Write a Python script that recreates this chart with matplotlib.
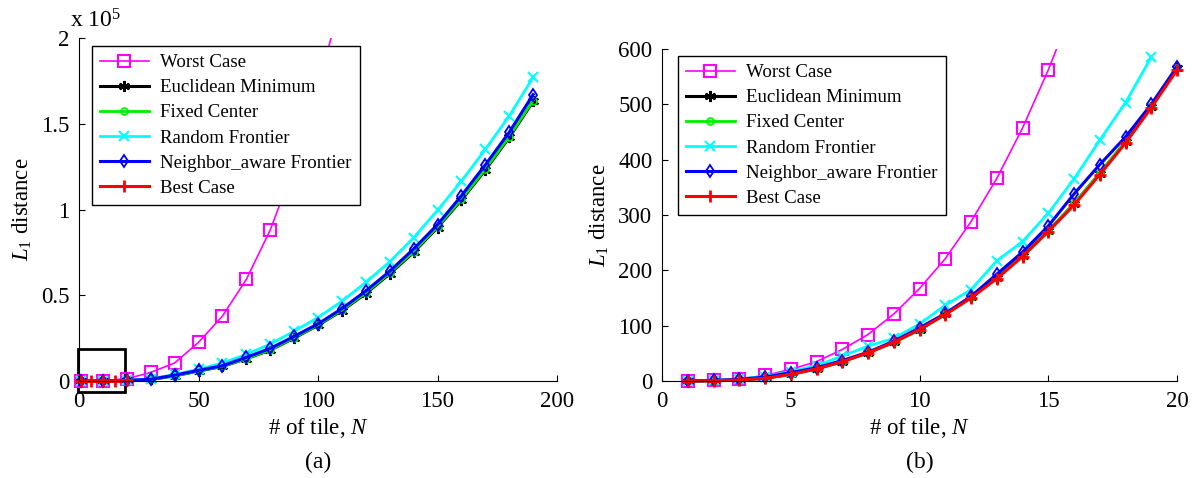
import numpy as np
import matplotlib
matplotlib.use("Agg")
import matplotlib.pyplot as plt
from matplotlib.patches import Rectangle
from matplotlib.transforms import Bbox, TransformedBbox

plt.rcParams['font.family'] = ['Liberation Serif', 'DejaVu Serif']
plt.rcParams['mathtext.fontset'] = 'custom'
plt.rcParams['mathtext.rm'] = 'Liberation Serif'
plt.rcParams['mathtext.it'] = 'Liberation Serif:italic'

# ---- panel (a) data, values in units of 1e5 ----
n_a = [1, 10, 20, 30, 40, 50, 60, 70, 80, 90, 100, 110, 120, 130, 140, 150, 160, 170, 180, 190]
worst_a = [0.0, 0.002, 0.013, 0.05, 0.105, 0.225, 0.378, 0.592, 0.88, 1.25, 1.70, 2.25]
euclid_a = [0.0, 0.0003, 0.003, 0.009, 0.03, 0.058, 0.085, 0.13, 0.18, 0.25, 0.325, 0.41,
            0.51, 0.625, 0.75, 0.895, 1.055, 1.23, 1.42, 1.63]
fixed_a = [0.0, 0.0003, 0.003, 0.009, 0.03, 0.058, 0.086, 0.131, 0.182, 0.252, 0.327, 0.413,
           0.514, 0.63, 0.755, 0.9, 1.06, 1.235, 1.425, 1.635]
random_a = [0.0, 0.0004, 0.004, 0.013, 0.038, 0.068, 0.105, 0.155, 0.215, 0.29, 0.37, 0.465,
            0.575, 0.695, 0.835, 0.995, 1.165, 1.35, 1.545, 1.77]
neighbor_a = [0.0, 0.0003, 0.003, 0.01, 0.034, 0.062, 0.089, 0.138, 0.19, 0.26, 0.333, 0.422,
              0.525, 0.64, 0.77, 0.912, 1.08, 1.26, 1.45, 1.67]
n_best_a = [1, 5, 10, 15, 20]
best_a = [0.0, 0.0001, 0.0003, 0.0008, 0.003]

# ---- panel (b) data ----
n_b = list(range(1, 21))
worst_b = [0, 1, 4, 10, 21, 35, 57, 84, 121, 167, 221, 288, 366, 457, 562, 680]
euclid_b = [0, 0.5, 2, 5, 12, 22, 35, 51, 70, 93, 121, 151, 186, 226, 271, 320, 375, 432, 496, 565]
fixed_b = [0, 0.5, 2, 5, 12, 22, 35, 51, 70, 93, 121, 151, 186, 226, 271, 321, 376, 433, 497, 565]
random_b = [0, 1, 4, 8, 17, 28, 45, 63, 77, 103, 137, 165, 217, 252, 303, 365, 435, 503, 585]
neighbor_b = [0, 1, 3, 7, 15, 24, 37, 52, 72, 96, 122, 153, 193, 233, 280, 338, 391, 441, 500, 568]
best_b = [0, 0.5, 2, 5, 12, 22, 35, 51, 70, 93, 120, 150, 185, 225, 270, 318, 373, 430, 494, 562]

labels = ['Worst Case', 'Euclidean Minimum', 'Fixed Center', 'Random Frontier',
          'Neighbor_aware Frontier', 'Best Case']

asterisk = (6, 2, 0)
styles = [
    dict(color='#FF00FF', marker='s', ms=8, mfc='none', mew=1.5, lw=1.2),
    dict(color='black', marker=asterisk, ms=8, mew=1.5, lw=2.2),
    dict(color='#00EE00', marker='o', ms=5, mfc='none', mew=1.2, lw=2.0),
    dict(color='#00FFFF', marker='x', ms=7, mew=1.5, lw=2.0),
    dict(color='#0000FF', marker='d', ms=6.5, mfc='none', mew=1.3, lw=2.2),
    dict(color='#FF0000', marker='+', ms=9, mew=2.0, lw=2.2),
]


def setup(ax, xlim, ylim, xticks, yticks, yticklabels):
    ax.set_xlim(xlim)
    ax.set_ylim(ylim)
    ax.set_xticks(xticks)
    ax.set_yticks(yticks)
    ax.set_yticklabels(yticklabels)
    ax.spines['top'].set_visible(False)
    ax.spines['right'].set_visible(False)
    ax.tick_params(direction='in', length=4, width=0.8, labelsize=16.5, pad=7)
    ax.set_xlabel(r'# of tile, $N$', fontsize=16.5, labelpad=3)
    ax.set_ylabel(r'$L_{\mathit{1}}$ distance', fontsize=16.5, labelpad=5)


def add_legend(ax, anchor):
    leg = ax.legend(loc='upper left', bbox_to_anchor=anchor, borderaxespad=0,
                    fontsize=13.6, handlelength=2.6, handletextpad=0.6,
                    labelspacing=0.42, borderpad=0.42, fancybox=False,
                    edgecolor='black', framealpha=1)
    leg.get_frame().set_linewidth(1.0)


fig = plt.figure(figsize=(11.94, 4.78), dpi=100)

# panel (a)
ax1 = fig.add_axes([79 / 1194, 1 - 381 / 478, 478 / 1194, 343 / 478])
clip1 = TransformedBbox(Bbox([[-5, -0.2], [205, 2.0]]), ax1.transData)
series_a = [(n_a, worst_a), (n_a, euclid_a), (n_a, fixed_a), (n_a, random_a),
            (n_a, neighbor_a), (n_best_a, best_a)]
for (xs, ys), lab, st in zip(series_a, labels, styles):
    line, = ax1.plot(xs[:len(ys)], ys, label=lab, **st)
    line.set_clip_box(clip1)
setup(ax1, (0, 200), (0, 2), [0, 50, 100, 150, 200], [0, 0.5, 1, 1.5, 2],
      ['0', '0.5', '1', '1.5', '2'])
ax1.add_patch(Rectangle((-0.4, -0.065), 19.8, 0.252, fill=False, ec='black', lw=2,
                        clip_on=False))
fig.text(70 / 1194, 1 - 27 / 478, r'x 10$^5$', fontsize=17, va='baseline')
add_legend(ax1, (13 / 478, 1 - 8 / 343))
fig.text(318 / 1194, 1 - 462 / 478, '(a)', fontsize=17, ha='center', va='center')

# panel (b)
ax2 = fig.add_axes([662 / 1194, 1 - 381 / 478, 515 / 1194, 332 / 478])
clip2 = TransformedBbox(Bbox([[-1, -60], [21, 600]]), ax2.transData)
series_b = [worst_b, euclid_b, fixed_b, random_b, neighbor_b, best_b]
for ys, lab, st in zip(series_b, labels, styles):
    line, = ax2.plot(n_b[:len(ys)], ys, label=lab, **st)
    line.set_clip_box(clip2)
setup(ax2, (0, 20), (0, 600), [0, 5, 10, 15, 20], [0, 100, 200, 300, 400, 500, 600],
      ['0', '100', '200', '300', '400', '500', '600'])
add_legend(ax2, (16 / 515, 1 - 7 / 332))
fig.text(920 / 1194, 1 - 462 / 478, '(b)', fontsize=17, ha='center', va='center')

fig.savefig('out.png', dpi=100)
